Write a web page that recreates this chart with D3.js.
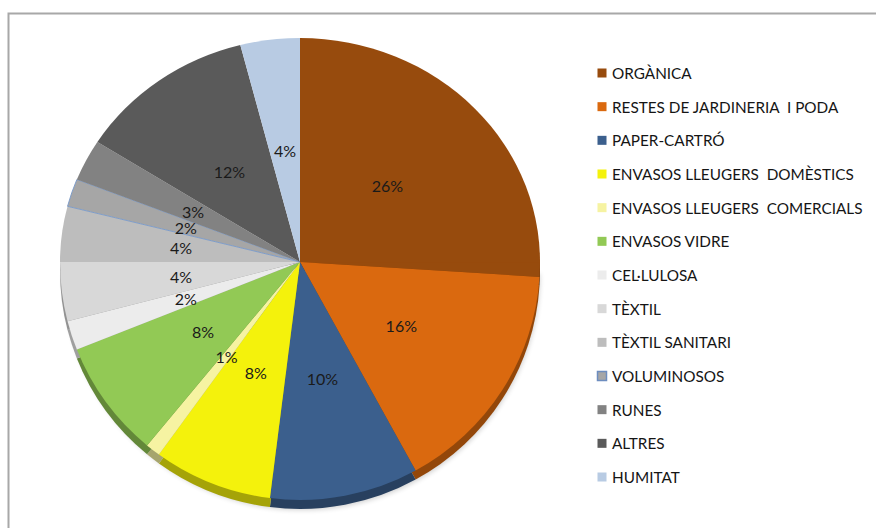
<!DOCTYPE html>
<html>
<head>
<meta charset="utf-8">
<script src="https://cdn.jsdelivr.net/npm/d3@7"></script>
<style>
  body { margin: 0; background: #fff; }
  svg { display: block; font-family: Lato, 'Open Sans', sans-serif; }
</style>
</head>
<body>
<div class="container"></div>
<script>
const categories = [
  'ORGÀNICA',
  'RESTES DE JARDINERIA  I PODA',
  'PAPER-CARTRÓ',
  'ENVASOS LLEUGERS  DOMÈSTICS',
  'ENVASOS LLEUGERS  COMERCIALS',
  'ENVASOS VIDRE',
  'CEL·LULOSA',
  'TÈXTIL',
  'TÈXTIL SANITARI',
  'VOLUMINOSOS',
  'RUNES',
  'ALTRES',
  'HUMITAT',
];
const values = [26, 16, 10, 8, 1, 8, 2, 4, 4, 2, 3, 12, 4];
const sliceColors = [
  '#974b0d',
  '#da690f',
  '#3b5f8d',
  '#f4f20c',
  '#f6f3a2',
  '#92c955',
  '#ececec',
  '#d8d8d8',
  '#bdbdbd',
  '#a6a6a6',
  '#828282',
  '#5a5a5a',
  '#b8cbe3',
];

const width = 876;
const height = 528;
const cx = 300;
const cy = 262;
const radius = 240;
const topScale = 224 / radius;
const bottomScale = 238 / radius;
const rim = 9;

const svg = d3
  .select('.container')
  .append('svg')
  .attr('width', width)
  .attr('height', height);

// frame
svg
  .append('path')
  .attr('d', `M8.5,${height} V13.5 H${width}`)
  .attr('fill', 'none')
  .attr('stroke', '#a8a8a8')
  .attr('stroke-width', 2);

const defs = svg.append('defs');
defs
  .append('clipPath')
  .attr('id', 'clip-top')
  .append('rect')
  .attr('x', -radius - 20)
  .attr('y', -radius - 20)
  .attr('width', 2 * radius + 40)
  .attr('height', radius + 20.5);
defs
  .append('clipPath')
  .attr('id', 'clip-bottom')
  .append('rect')
  .attr('x', -radius - 20)
  .attr('y', 0)
  .attr('width', 2 * radius + 40)
  .attr('height', radius + 40);

const blur = defs.append('filter').attr('id', 'soft');
blur.append('feGaussianBlur').attr('stdDeviation', 2.5);

const pie = d3.pie().sort(null).value((d) => d);
const arcs = pie(values);
const arc = d3.arc().innerRadius(0).outerRadius(radius);
const labelArc = d3.arc().innerRadius(120).outerRadius(120);

const chart = svg.append('g').attr('transform', `translate(${cx},${cy})`);

// lower half with the side rim
const lower = chart
  .append('g')
  .attr('clip-path', 'url(#clip-bottom)')
  .append('g')
  .attr('transform', `scale(1,${bottomScale})`);

// soft shadow under the rim
lower
  .append('path')
  .attr('d', d3.arc().innerRadius(0).outerRadius(radius - 2).startAngle(Math.PI / 2).endAngle(1.5 * Math.PI)())
  .attr('transform', `translate(2,${rim + 3})`)
  .attr('fill', '#000')
  .attr('opacity', 0.18)
  .attr('filter', 'url(#soft)');

lower
  .append('g')
  .attr('transform', `translate(0,${rim})`)
  .selectAll('path')
  .data(arcs)
  .enter()
  .append('path')
  .attr('d', arc)
  .attr('fill', (d, i) => d3.color(sliceColors[i]).darker(1.1));

const drawFace = (g) => {
  g.selectAll('path.slice')
    .data(arcs)
    .enter()
    .append('path')
    .attr('class', 'slice')
    .attr('d', arc)
    .attr('fill', (d, i) => sliceColors[i])
    .attr('stroke', (d, i) => (categories[i] === 'VOLUMINOSOS' ? '#7c9bc9' : 'none'))
    .attr('stroke-width', 1);
};

drawFace(lower);

const upper = chart
  .append('g')
  .attr('clip-path', 'url(#clip-top)')
  .append('g')
  .attr('transform', `scale(1,${topScale})`);
drawFace(upper);

// percentage labels
chart
  .append('g')
  .selectAll('text')
  .data(arcs)
  .enter()
  .append('text')
  .attr('x', (d) => labelArc.centroid(d)[0])
  .attr('y', (d) => {
    const y = labelArc.centroid(d)[1];
    return y < 0 ? y * topScale : y * bottomScale;
  })
  .attr('text-anchor', 'middle')
  .attr('dominant-baseline', 'central')
  .attr('font-size', 16)
  .attr('fill', '#1a1a1a')
  .text((d) => `${d.data}%`);

// legend
const legendY = d3.scalePoint().domain(categories).range([73, 477]);
const legend = svg.append('g').attr('transform', 'translate(597,0)');
const rows = legend
  .selectAll('g')
  .data(categories)
  .enter()
  .append('g')
  .attr('transform', (d) => `translate(0,${legendY(d)})`);

rows
  .append('rect')
  .attr('x', 0.5)
  .attr('y', -4.5)
  .attr('width', 9)
  .attr('height', 9)
  .attr('fill', (d, i) => sliceColors[i])
  .attr('stroke', (d) => (d === 'VOLUMINOSOS' ? '#6d8dbf' : 'none'))
  .attr('stroke-width', 1.5);

rows
  .append('text')
  .attr('x', 15)
  .attr('y', 0)
  .attr('dominant-baseline', 'central')
  .attr('font-size', 15.3)
  .attr('fill', '#151515')
  .style('white-space', 'pre')
  .text((d) => d);
</script>
</body>
</html>
